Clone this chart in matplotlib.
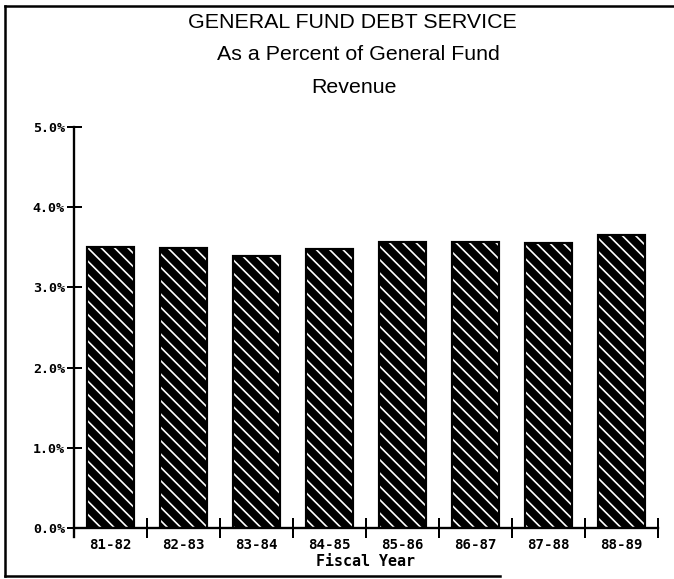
import matplotlib
matplotlib.use("Agg")
import matplotlib.pyplot as plt
from matplotlib.lines import Line2D

years = ["81-82", "82-83", "83-84", "84-85", "85-86", "86-87", "87-88", "88-89"]
pct = [3.50, 3.49, 3.39, 3.48, 3.57, 3.57, 3.55, 3.65]
yticks = [0, 1, 2, 3, 4, 5]
ylabels = ["0.0%", "1.0%", "2.0%", "3.0%", "4.0%", "5.0%"]

DPI = 120
plt.rcParams["hatch.linewidth"] = 1.0
mono = {"family": "DejaVu Sans Mono", "weight": "bold"}

fig = plt.figure(figsize=(674 / DPI, 579 / DPI), dpi=DPI)
ax = fig.add_axes([74 / 674, 1 - 528 / 579, (658 - 74) / 674, (528 - 127) / 579])

x = list(range(len(years)))
# black bars with white diagonal stripes, then a black outline on top
ax.bar(x, pct, width=0.64, color="black", edgecolor="white", linewidth=0, hatch="\\\\\\")
ax.bar(x, pct, width=0.64, fill=False, edgecolor="black", linewidth=1.3)

ax.set_xlim(-0.5, 7.5)
ax.set_ylim(0, 5)
ax.spines["top"].set_visible(False)
ax.spines["right"].set_visible(False)
ax.spines["left"].set_linewidth(1.4)
ax.spines["bottom"].set_linewidth(1.4)
ax.spines["left"].set_bounds(-0.11, 5)

ax.set_yticks(yticks)
ax.set_yticklabels(ylabels, fontdict=mono, fontsize=8)
ax.tick_params(axis="y", direction="inout", length=9, width=1.2, pad=1)

ax.set_xticks(x)
ax.set_xticklabels(years, fontdict=mono, fontsize=8.5)
ax.set_xticks([i + 0.5 for i in x], minor=True)
ax.tick_params(axis="x", which="major", length=0, pad=6)
ax.tick_params(axis="x", which="minor", direction="inout", length=12, width=1.2)
ax.set_xlabel("Fiscal Year", fontdict=mono, fontsize=9, labelpad=1)

title_font = {"family": "Liberation Sans", "size": 12.8}
fig.text(352 / 674, 1 - 22 / 579, "GENERAL FUND DEBT SERVICE", ha="center", va="center", **title_font)
fig.text(358 / 674, 1 - 55 / 579, "As a Percent of General Fund", ha="center", va="center", **title_font)
fig.text(354 / 674, 1 - 88 / 579, "Revenue", ha="center", va="center", **title_font)

# page frame (scanned border)
fig.add_artist(Line2D([5 / 674, 1], [1 - 6 / 579, 1 - 6 / 579], transform=fig.transFigure, color="black", lw=1.5))
fig.add_artist(Line2D([5 / 674, 5 / 674], [1 - 6 / 579, 1 - 576 / 579], transform=fig.transFigure, color="black", lw=1.5))
fig.add_artist(Line2D([5 / 674, 500 / 674], [1 - 576 / 579, 1 - 576 / 579], transform=fig.transFigure, color="black", lw=1.5))

fig.savefig("out.png", dpi=DPI)
